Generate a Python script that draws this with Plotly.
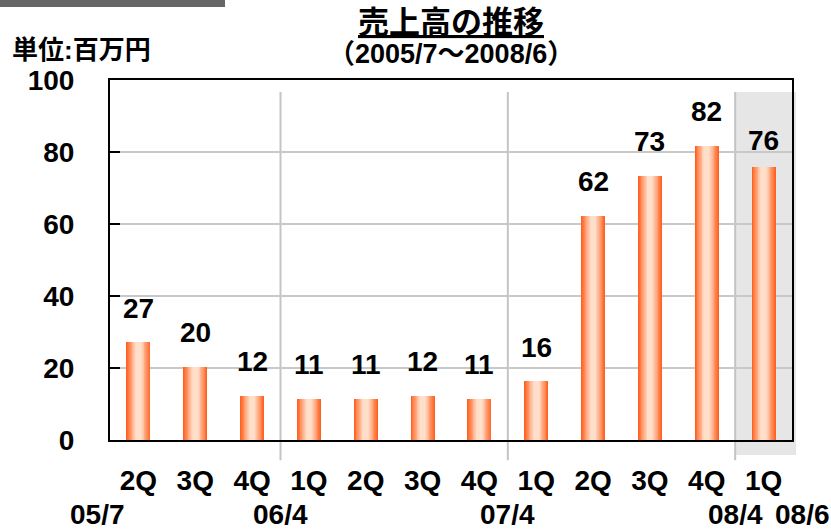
import plotly.graph_objects as go

# ---- data ----
quarters = ["2Q", "3Q", "4Q", "1Q", "2Q", "3Q", "4Q", "1Q", "2Q", "3Q", "4Q", "1Q"]
sales = [27.2, 20.4, 12.3, 11.4, 11.4, 12.3, 11.4, 16.3, 62.3, 73.4, 81.7, 75.8]
period_labels = ["05/7", "06/4", "07/4", "08/4", "08/6"]
period_pos = [-0.5, 2.5, 6.5, 10.5, 11.5]       # category boundaries
period_shift = [-13, 0, 0, 0, 10]
year_dividers = [2.5, 6.5, 10.5]
highlight = (10.5, 11.5)
y_ticks = [0, 20, 40, 60, 80, 100]

FONT = "Liberation Sans, Arial, Noto Sans CJK JP, sans-serif"
EDGE = (255, 98, 32)
CENTER = (255, 222, 202)
BAR_W = 0.42
N_LAYERS = 14
FS = 28

x = list(range(len(sales)))
n = len(sales)

def px_x(v):
    # category coordinate -> paper coordinate
    return (v + 0.5) / n

fig = go.Figure()
for k in range(N_LAYERS):
    f = 1 - k / N_LAYERS            # relative width of this layer
    s = min(1.0, (1 - f) / 0.75)
    c = tuple(round(EDGE[i] + (CENTER[i] - EDGE[i]) * s) for i in range(3))
    fig.add_trace(go.Bar(
        x=x, y=sales, width=BAR_W * f,
        marker=dict(color="rgb(%d,%d,%d)" % c, line=dict(width=0)),
        hoverinfo="skip", showlegend=False,
    ))

shapes = []
# highlighted last quarter
shapes.append(dict(type="rect", xref="paper", yref="paper",
                   x0=px_x(highlight[0]), x1=px_x(highlight[1]) + 0.006,
                   y0=-0.042, y1=0.967, fillcolor="#e6e6e6",
                   line=dict(width=0), layer="below"))
for d in year_dividers:
    shapes.append(dict(type="line", xref="paper", yref="paper",
                       x0=px_x(d), x1=px_x(d), y0=-0.056, y1=0.967,
                       line=dict(color="#c4c4c4", width=2), layer="below"))
# dark bar at top-left
shapes.append(dict(type="rect", xref="paper", yref="paper",
                   x0=-110 / 682, x1=115 / 682, y0=433 / 360, y1=441 / 360,
                   fillcolor="#666666", line=dict(width=0), layer="above"))

annotations = []
for i, v in enumerate(sales):
    annotations.append(dict(x=i, y=v, xref="x", yref="y", text="<b>%d</b>" % round(v),
                            showarrow=False, yanchor="middle",
                            yshift=27 if i == n - 1 else 34,
                            font=dict(family=FONT, size=FS, color="black")))
for lab, pos, sh in zip(period_labels, period_pos, period_shift):
    annotations.append(dict(x=pos, y=-0.206, xref="x", yref="paper", text="<b>%s</b>" % lab,
                            showarrow=False, yanchor="middle", xshift=sh,
                            font=dict(family=FONT, size=FS, color="black")))
annotations.append(dict(x=0.5, y=1.161, xref="paper", yref="paper",
                        text="<b><u>売上高の推移</u></b>", showarrow=False, yanchor="middle",
                        font=dict(family=FONT, size=31, color="black")))
annotations.append(dict(x=0.5, y=1.072, xref="paper", yref="paper",
                        text="<b>（2005/7～2008/6）</b>", showarrow=False, yanchor="middle",
                        font=dict(family=FONT, size=27, color="black")))
annotations.append(dict(x=0, y=1.083, xref="paper", yref="paper", xanchor="left", xshift=-100,
                        text="<b>単位:百万円</b>", showarrow=False, yanchor="middle",
                        font=dict(family=FONT, size=26, color="black")))

fig.update_layout(
    width=831, height=530,
    margin=dict(l=110, r=39, t=80, b=90),
    paper_bgcolor="white", plot_bgcolor="rgba(0,0,0,0)",
    barmode="overlay", bargap=0,
    shapes=shapes, annotations=annotations,
    font=dict(family=FONT, color="black"),
    xaxis=dict(range=[-0.5, n - 0.5], tickvals=x, ticktext=["<b>%s</b>" % q for q in quarters],
               showgrid=False, zeroline=False, showline=True, mirror=True,
               linecolor="black", linewidth=2, ticks="", ticklabelstandoff=14,
               tickfont=dict(family=FONT, size=FS, color="black")),
    yaxis=dict(range=[0, 100], tickvals=y_ticks, ticktext=["<b>%d</b>" % t for t in y_ticks],
               showgrid=True, gridcolor="#c8c8c8", gridwidth=2, zeroline=False,
               showline=True, mirror=True, linecolor="black", linewidth=2,
               ticks="inside", ticklen=10, tickwidth=2, tickcolor="black",
               ticklabelstandoff=28,
               tickfont=dict(family=FONT, size=FS, color="black")),
)

fig.write_html("out.html")
